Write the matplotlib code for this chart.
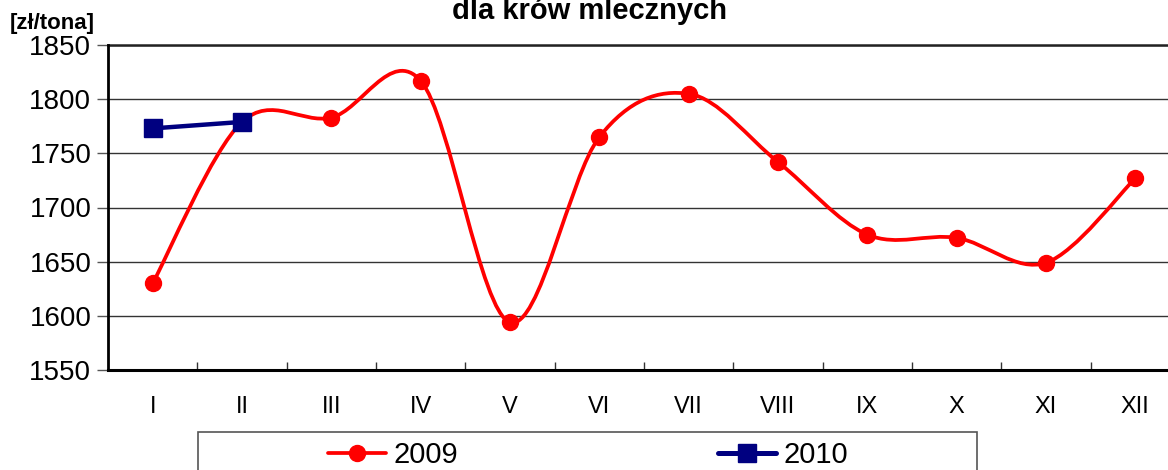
import numpy as np
import matplotlib
matplotlib.use("Agg")
import matplotlib.pyplot as plt
from matplotlib.patches import Rectangle
from matplotlib.path import Path
from matplotlib.patches import PathPatch
from matplotlib.lines import Line2D

months = ["I", "II", "III", "IV", "V", "VI", "VII", "VIII", "IX", "X", "XI", "XII"]
values_2009 = [1630, 1779, 1783, 1817, 1594, 1765, 1805, 1742, 1675, 1672, 1649, 1727]
values_2010 = [1773, 1779]
y_ticks = [1550, 1600, 1650, 1700, 1750, 1800, 1850]

plt.rcParams['font.family'] = ['Liberation Sans', 'DejaVu Sans']

W, H = 1168, 470
fig = plt.figure(figsize=(W / 100, H / 100), dpi=100)
left, right, top, bottom = 108, 1180, 45, 370
ax = fig.add_axes([left / W, 1 - bottom / H, (right - left) / W, (bottom - top) / H])
ax.set_xlim(0, 12)
ax.set_ylim(1550, 1850)

for y in y_ticks[1:]:
    ax.axhline(y, color="#333333", lw=1.0, zorder=1)

x = np.arange(len(months)) + 0.5
y9 = np.array(values_2009, dtype=float)

# Excel-like smoothed line (Catmull-Rom as cubic Bezier)
verts = [(x[0], y9[0])]
codes = [Path.MOVETO]
n = len(x)
for i in range(n - 1):
    p0 = np.array([x[max(i - 1, 0)], y9[max(i - 1, 0)]])
    p1 = np.array([x[i], y9[i]])
    p2 = np.array([x[i + 1], y9[i + 1]])
    p3 = np.array([x[min(i + 2, n - 1)], y9[min(i + 2, n - 1)]])
    c1 = p1 + (p2 - p0) / 6.0
    c2 = p2 - (p3 - p1) / 6.0
    verts += [tuple(c1), tuple(c2), tuple(p2)]
    codes += [Path.CURVE4] * 3
path = Path(verts, codes)
ax.add_patch(PathPatch(path, facecolor="none", edgecolor="#ff0000", lw=2.7,
                       capstyle="round", joinstyle="round", zorder=3))
ax.plot(x, y9, linestyle="none", marker="o", markersize=11.5, color="#ff0000", zorder=4)

x10 = x[:len(values_2010)]
ax.plot(x10, values_2010, color="#000080", lw=3.2, marker="s", markersize=12.5,
        solid_capstyle="round", zorder=5)

ax.set_yticks(y_ticks)
ax.set_yticklabels([str(v) for v in y_ticks], fontsize=20)
ax.tick_params(axis="y", direction="out", length=8, width=1, color="#555555", pad=4)
ax.set_xticks(np.arange(1, 12))
ax.set_xticklabels([])
ax.set_xticks(x, minor=True)
ax.set_xticklabels(months, minor=True, fontsize=17)
ax.tick_params(axis="x", which="major", direction="in", length=6, width=1, color="#333333")
ax.tick_params(axis="x", which="minor", length=0, pad=19)

for s in ["top", "right"]:
    ax.spines[s].set_visible(False)
ax.spines["left"].set_linewidth(2)
ax.spines["bottom"].set_linewidth(2.2)
ax.spines["left"].set_zorder(6)
ax.spines["bottom"].set_zorder(6)
ax.axhline(1850, color="#222222", lw=1.8, zorder=6, clip_on=False)

fig.text(52 / W, 1 - 23 / H, "[zł/tona]", fontsize=16, fontweight="bold",
         ha="center", va="center")
fig.text(590 / W, 1 - 19 / H, "dla krów mlecznych", fontsize=21, fontweight="bold",
         ha="center", va="baseline")

# legend box
fig.patches.append(Rectangle((198 / W, 1 - 492 / H), (977 - 198) / W, 60 / H,
                             transform=fig.transFigure, facecolor="white",
                             edgecolor="#555555", lw=1.2))
h1 = Line2D([], [], color="#ff0000", lw=2.7, marker="o", markersize=11.5,
            solid_capstyle="round")
h2 = Line2D([], [], color="#000080", lw=3.6, marker="s", markersize=12.5,
            solid_capstyle="round")
fig.legend([h1, h2], ["2009", "2010"], loc="center", ncol=2,
           bbox_to_anchor=(588 / W, 1 - 455 / H), frameon=False, fontsize=21,
           handlelength=2.0, handletextpad=0.25, columnspacing=8.9,
           borderpad=0, borderaxespad=0)

fig.savefig("out.png", dpi=100)
